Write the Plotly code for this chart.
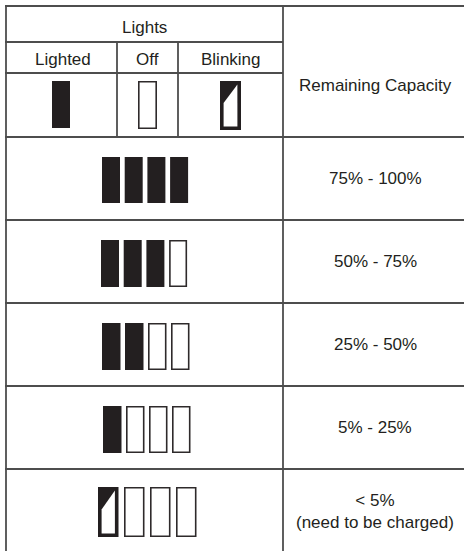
import plotly.graph_objects as go

# ---- data ----
legend_states = ["Lighted", "Off", "Blinking"]
capacity_labels = ["75% - 100%", "50% - 75%", "25% - 50%", "5% - 25%",
                   "< 5%<br>(need to be charged)"]
lighted_counts = [4, 3, 2, 1, 0]
blinking_counts = [0, 0, 0, 0, 1]
n_lights = 4
header_group = "Lights"
header_capacity = "Remaining Capacity"

# ---- style / layout ----
W, H = 465, 551
INK = "#231f20"
GRID = "#4d4d4d"
FONT = dict(family="Liberation Sans, Arial, sans-serif", size=17, color=INK)
col_edges = [6, 117, 178, 283, 464]
head_y = [6, 42, 73, 137]
row_h = 83
row_top0 = 137
bar_x0 = [102, 101, 102, 103, 98]
bar_pitch = [22.7, 22.7, 23.0, 23.0, 26.0]
bar_w = [18, 18, 18.5, 18.5, 20.5]
bar_off = [20, 20, 20, 20, 18]
bar_h = [46, 47, 47, 47, 50]

shapes = []
annotations = []


def line(x0, y0, x1, y1, w=1.8):
    shapes.append(dict(type="line", x0=x0, y0=y0, x1=x1, y1=y1,
                       line=dict(color=GRID, width=w), layer="above"))


def text(x, y, s):
    annotations.append(dict(x=x, y=y, text=s, showarrow=False, font=FONT,
                            xanchor="center", yanchor="middle", align="center"))


def icon(state, x0, y0, w, h):
    x1, y1 = x0 + w, y0 + h
    if state == "Lighted":
        shapes.append(dict(type="rect", x0=x0, y0=y0, x1=x1, y1=y1,
                           fillcolor=INK, line=dict(width=0)))
    elif state == "Off":
        shapes.append(dict(type="rect", x0=x0 + 0.8, y0=y0 + 0.8, x1=x1 - 0.8, y1=y1 - 0.8,
                           fillcolor="white", line=dict(color="#2e2a2b", width=1.6)))
    else:
        b = 3.6
        shapes.append(dict(type="rect", x0=x0, y0=y0, x1=x1, y1=y1,
                           fillcolor=INK, line=dict(width=0)))
        ix0, iy0, ix1, iy1 = x0 + b, y0 + b, x1 - b, y1 - b
        ky = y0 + 0.45 * h
        shapes.append(dict(type="path",
                           path=f"M {ix0},{iy1} L {ix1},{iy1} L {ix1},{iy0} L {ix0},{ky} Z",
                           fillcolor="white", line=dict(width=0)))


# table grid
line(5, head_y[0], 464, head_y[0])
line(5, head_y[1], col_edges[3], head_y[1])
line(5, head_y[2], col_edges[3], head_y[2])
line(col_edges[0], head_y[0], col_edges[0], H)
line(col_edges[3], head_y[0], col_edges[3], H)
for cx in col_edges[1:3]:
    line(cx, head_y[1], cx, head_y[3])
for i in range(len(capacity_labels)):
    line(5, row_top0 + i * row_h, 464, row_top0 + i * row_h)

# header texts
text((col_edges[0] + col_edges[3]) / 2, 27, header_group)
for k, s in enumerate(legend_states):
    text((col_edges[k] + col_edges[k + 1]) / 2 + (1 if k == 0 else 0), 59, s)
text((col_edges[3] + W) / 2 + 1, 85, header_capacity)

# header icons
icon("Lighted", 52, 81, 18, 47)
icon("Off", 138, 81, 19, 48)
icon("Blinking", 220, 81, 21, 49)

# rows
for i, lab in enumerate(capacity_labels):
    top = row_top0 + i * row_h
    for j in range(n_lights):
        if j < lighted_counts[i]:
            st = "Lighted"
        elif j < lighted_counts[i] + blinking_counts[i]:
            st = "Blinking"
        else:
            st = "Off"
        icon(st, bar_x0[i] + j * bar_pitch[i], top + bar_off[i], bar_w[i], bar_h[i])
    cy = top + row_h / 2 + (1 if i == len(capacity_labels) - 1 else 0)
    text((col_edges[3] + W) / 2 + 1, cy, lab)

fig = go.Figure()
fig.add_trace(go.Scatter(x=[0, W], y=[0, H], mode="markers",
                         marker=dict(opacity=0), hoverinfo="skip", showlegend=False))
fig.update_layout(
    width=W, height=H, margin=dict(l=0, r=0, t=0, b=0),
    paper_bgcolor="white", plot_bgcolor="white",
    xaxis=dict(range=[0, W], visible=False, fixedrange=True),
    yaxis=dict(range=[H, 0], visible=False, fixedrange=True),
    shapes=shapes, annotations=annotations, showlegend=False,
)
fig.write_html(
    "out.html",
    config={"displayModeBar": False},
    post_script="document.body.style.margin='0';document.body.style.overflow='hidden';",
)
